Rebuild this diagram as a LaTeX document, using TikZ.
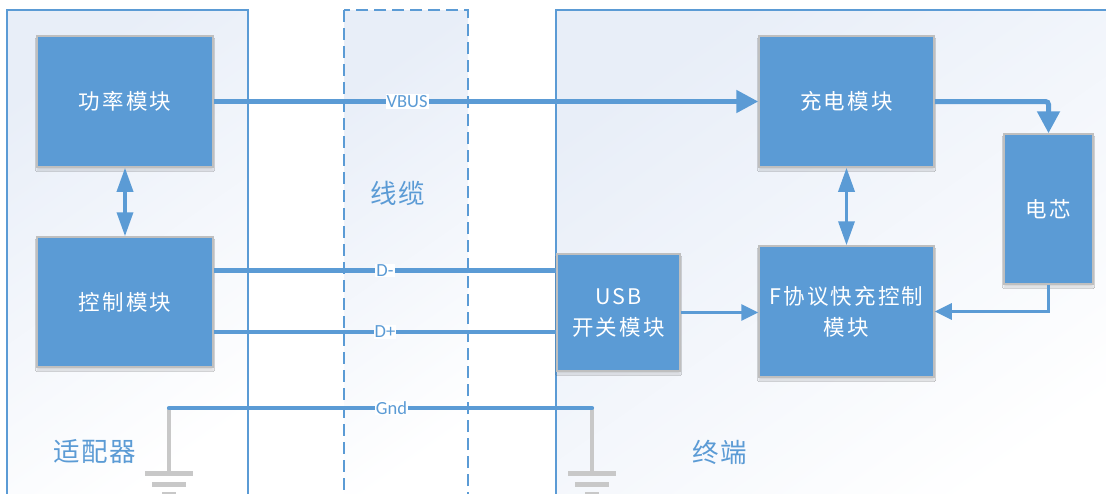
\documentclass[tikz,border=0pt]{standalone}
\usepackage{fontspec}
\newfontfamily\cjkbox[LetterSpace=10]{Noto Sans CJK SC}
\newfontfamily\cjklab[LetterSpace=5]{Noto Sans CJK SC}
\newfontfamily\latlab{Carlito}
\usetikzlibrary{arrows.meta,shadows.blur}
\definecolor{blu}{RGB}{91,155,213}
\definecolor{bgray}{RGB}{191,191,191}
\definecolor{ggray}{RGB}{200,200,200}
\definecolor{frm}{RGB}{232,238,248}
\begin{document}
\begin{tikzpicture}[x=1pt,y=-1pt,
  blk/.style={draw=bgray, line width=1.5pt, fill=blu, text=white,
    font=\cjkbox\fontsize{21.5}{31}\selectfont, align=center, inner sep=0pt,
    blur shadow={shadow xshift=0pt, shadow yshift=-3pt, shadow opacity=15, shadow blur steps=6}},
  frame/.style={draw=blu, line width=1.5pt, top color=frm, bottom color=white, shading angle=35},
  lbl/.style={fill=white, text=blu, font=\latlab\fontsize{18.5}{20}\selectfont, inner sep=1pt},
  sect/.style={text=blu, font=\cjklab\fontsize{26.5}{30}\selectfont, inner sep=0pt},
  bus/.style={draw=blu, line width=5pt},
  sig/.style={draw=blu, line width=4.2pt},
  thin/.style={draw=blu, line width=2.8pt},
  bigtip/.style={-{Triangle[length=22pt,width=22pt]}},
  smalltip/.style={-{Triangle[length=17pt,width=16pt]}},
  dbltip/.style={{Triangle[length=24pt,width=16pt]}-{Triangle[length=24pt,width=16pt]}},
  dbl/.style={draw=blu, line width=3.5pt},
  gnd/.style={draw=ggray, line width=3.5pt},
  gbar/.style={draw=ggray, line width=5pt}
]
\useasboundingbox (0,0) rectangle (1106,493);
\clip (0,0) rectangle (1106,493);

% frames
\path[frame] (7,10) rectangle (248,510);
\path[frame, dash pattern=on 12pt off 6pt] (344,10) rectangle (468,510);
\path[frame] (556,10) rectangle (1130,510);

% section labels
\node[sect] (lad) at (95,452) {适配器};
\node[sect] (lcb) at (398,193) {线缆};
\node[sect] (ltm) at (720,452) {终端};

% blocks
\node[blk, minimum width=176pt, minimum height=131pt] (pw) at (125,101.5) {功率模块};
\node[blk, minimum width=176pt, minimum height=130pt] (ct) at (125,302) {控制模块};
\node[blk, minimum width=175pt, minimum height=131pt] (cm) at (846.5,101.5) {充电模块};
\node[blk, minimum width=175pt, minimum height=131pt] (fq) at (846.5,311.5) {F协议快充控制\\模块};
\node[blk, minimum width=89pt, minimum height=150pt] (bt) at (1048.5,209) {电芯};
\node[blk, minimum width=123pt, minimum height=117pt] (usb) at (618.5,312.5) {USB\\开关模块};

% ground
\coordinate (gl) at (169,408);
\coordinate (gr) at (592,408);
\coordinate (gle) at (169,473);
\coordinate (gre) at (592,473);
\draw[gnd] (gl) -- (gle);
\draw[gnd] (gr) -- (gre);
\draw[gbar] ([xshift=-24pt]gle) -- ([xshift=24pt]gle);
\draw[gbar] ([xshift=-17pt,yshift=-11pt]gle) -- ([xshift=17pt,yshift=-11pt]gle);
\draw[gbar] ([xshift=-7pt,yshift=-21pt]gle) -- ([xshift=7pt,yshift=-21pt]gle);
\draw[gbar] ([xshift=-24pt]gre) -- ([xshift=24pt]gre);
\draw[gbar] ([xshift=-17pt,yshift=-11pt]gre) -- ([xshift=17pt,yshift=-11pt]gre);
\draw[gbar] ([xshift=-7pt,yshift=-21pt]gre) -- ([xshift=7pt,yshift=-21pt]gre);
\draw[sig, line cap=round] (gl) -- node[lbl, pos=0.526] {Gnd} (gr);

% connectors
\draw[bus, bigtip] (pw.east) -- node[lbl, pos=0.355] {VBUS} (cm.west);
\draw[bus, bigtip, rounded corners=3pt] (cm.east) -| (bt.north);
\draw[dbl, dbltip] (pw.south) -- (ct.north);
\draw[dbl, dbltip] (cm.south) -- (fq.north);
\draw[sig] ([yshift=31.5pt]ct.east) coordinate (dma) -- node[lbl, pos=0.5] {D-} (dma -| usb.west);
\draw[sig] ([yshift=-29.7pt]ct.east) coordinate (dpa) -- node[lbl, pos=0.5] {D+} (dpa -| usb.west);
\draw[thin, smalltip] (usb.east) -- (usb.east -| fq.west);
\draw[thin, smalltip] (bt.south) |- (fq.east);
\end{tikzpicture}
\end{document}
